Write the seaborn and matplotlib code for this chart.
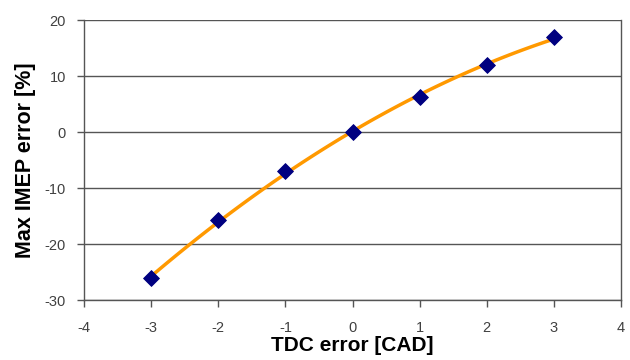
import matplotlib
matplotlib.use("Agg")
import matplotlib.pyplot as plt
import seaborn as sns
import pandas as pd

tdc_error = [-3, -2, -1, 0, 1, 2, 3]
imep_error = [-26.1, -15.8, -7.0, 0.0, 6.3, 11.9, 16.9]
x_ticks = [-4, -3, -2, -1, 0, 1, 2, 3, 4]
y_ticks = [-30, -20, -10, 0, 10, 20]

sns.set_style("white")
plt.rcParams['font.family'] = ['Liberation Sans', 'DejaVu Sans']
plt.rcParams['axes.unicode_minus'] = False

df = pd.DataFrame({"tdc": tdc_error, "imep": imep_error})

fig = plt.figure(figsize=(6.3, 3.6), dpi=100)
ax = fig.add_axes([84/630, 1 - 300/360, (621-84)/630, (300-20)/360])

for yv in y_ticks:
    ax.axhline(yv, color="#555555", lw=1.0, zorder=0)

sns.regplot(data=df, x="tdc", y="imep", order=2, ci=None, scatter=False,
            line_kws=dict(color="#FF9900", lw=2.5, zorder=2), ax=ax)
sns.scatterplot(data=df, x="tdc", y="imep", marker="D", s=65, color="#000080",
                edgecolor="#000080", zorder=3, ax=ax)

ax.set_xlim(-4, 4)
ax.set_ylim(-30, 20)
ax.set_xticks(x_ticks)
ax.set_yticks(y_ticks)
ax.tick_params(axis="both", direction="out", length=5, width=1, color="#555555",
               labelsize=10.5, labelcolor="#404040", bottom=True, left=True)
ax.tick_params(axis="x", pad=10)
ax.tick_params(axis="y", pad=8)
for side in ["left", "bottom", "right", "top"]:
    ax.spines[side].set_visible(True)
    ax.spines[side].set_color("#555555")
    ax.spines[side].set_linewidth(1.0)
ax.spines["top"].set_visible(False)

ax.set_xlabel("TDC error [CAD]", fontsize=15, fontweight="bold", color="black", labelpad=1)
ax.set_ylabel("Max IMEP error [%]", fontsize=15.5, fontweight="bold", color="black", labelpad=6)

fig.savefig("out.png", dpi=100)
